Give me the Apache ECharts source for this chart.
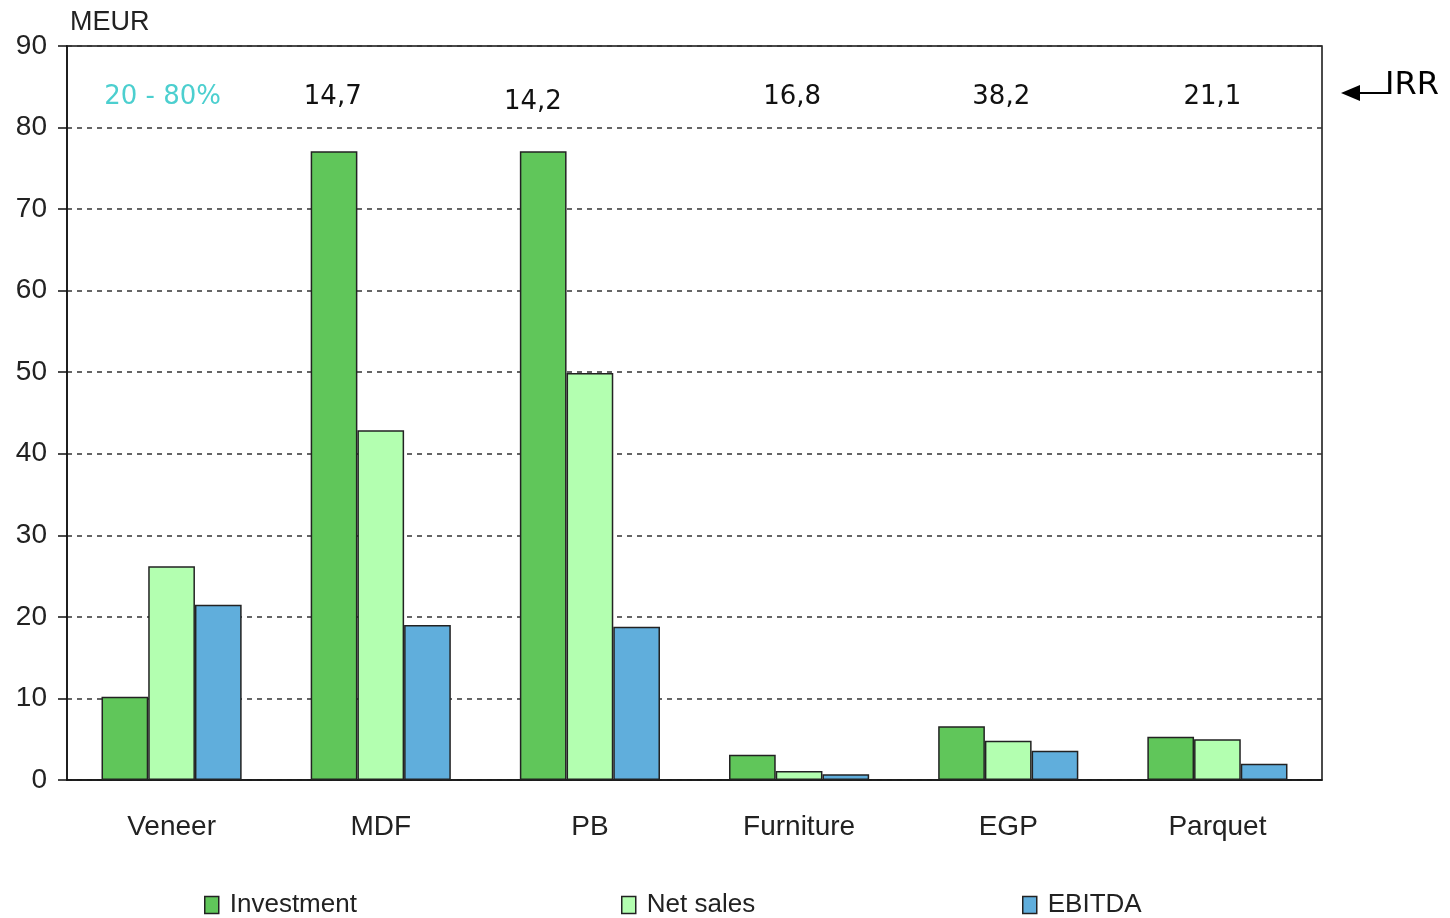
<!DOCTYPE html>
<html>
<head>
<meta charset="utf-8">
<script src="https://cdn.jsdelivr.net/npm/echarts@6/dist/echarts.min.js"></script>
<style>
  html, body { margin: 0; padding: 0; background: #fff; }
  #chart { width: 1450px; height: 918px; }
</style>
</head>
<body>
<div id="chart"></div>
<script>
var categories = ['Veneer', 'MDF', 'PB', 'Furniture', 'EGP', 'Parquet'];
var investment = [10.2, 77.1, 77.1, 3.1, 6.6, 5.3];
var netSales = [26.2, 42.9, 49.9, 1.1, 4.8, 5.0];
var ebitda = [21.5, 19.0, 18.8, 0.7, 3.6, 2.0];
var irrLabels = ['20 - 80%', '14,7', '14,2', '16,8', '38,2', '21,1'];
var irrY = [84, 84, 83.3, 84, 84, 84];
var irrShift = [-9, -48, -57, -7, -7, -5]; // labels sit a bit left of the group centre

var myChart = echarts.init(document.getElementById('chart'));

var irrData = [];
for (var i = 0; i < categories.length; i++) {
  irrData.push({
    value: [i, irrY[i]],
    label: {
      offset: [irrShift[i], 2],
      color: i == 0 ? '#4ccfcf' : '#111'
    }
  });
}

var barBorder = { borderColor: '#222', borderWidth: 1.5 };

var legendBase = {
  top: 892,
  padding: 0,
  itemWidth: 14,
  itemHeight: 17,
  icon: 'rect',
  itemStyle: { borderColor: '#222', borderWidth: 1.5 },
  textStyle: { fontFamily: 'Liberation Sans', fontSize: 26, color: '#222', padding: [0, 0, 0, 6] }
};

var option = {
  animation: false,
  backgroundColor: '#fff',
  grid: {
    left: 67, right: 128, top: 46, bottom: 138,
    show: true, borderColor: '#111', borderWidth: 1.5, backgroundColor: 'transparent'
  },
  legend: [
    Object.assign({}, legendBase, { left: 204, data: ['Investment'] }),
    Object.assign({}, legendBase, { left: 621, data: ['Net sales'] }),
    Object.assign({}, legendBase, { left: 1022, data: ['EBITDA'] })
  ],
  xAxis: {
    type: 'category',
    data: categories,
    axisLine: { lineStyle: { color: '#111', width: 1.5 } },
    axisTick: { length: 10, lineStyle: { color: '#111', width: 1.5 } },
    axisLabel: { fontFamily: 'Liberation Sans', fontSize: 28, color: '#222', margin: 33 }
  },
  yAxis: {
    type: 'value',
    min: 0, max: 90, interval: 10,
    axisLine: { show: true, lineStyle: { color: '#111', width: 1.5 } },
    axisTick: { show: true, length: 9, lineStyle: { color: '#111', width: 1.5 } },
    axisLabel: { fontFamily: 'Liberation Sans', fontSize: 28, color: '#222', margin: 20 },
    splitLine: { lineStyle: { color: '#333', width: 1.5, type: [5, 5] } }
  },
  series: [
    { name: 'Investment', type: 'bar', data: investment, barGap: '0%', barCategoryGap: '33%',
      itemStyle: Object.assign({ color: '#60c65a' }, barBorder) },
    { name: 'Net sales', type: 'bar', data: netSales,
      itemStyle: Object.assign({ color: '#b3ffb0' }, barBorder) },
    { name: 'EBITDA', type: 'bar', data: ebitda,
      itemStyle: Object.assign({ color: '#60aedc' }, barBorder) },
    { name: 'IRR', type: 'scatter', data: irrData, symbolSize: 0, silent: true,
      itemStyle: { opacity: 1 },
      label: {
        show: true, position: 'inside', fontFamily: 'DejaVu Sans', fontSize: 26,
        formatter: function (p) { return irrLabels[p.dataIndex]; }
      }
    }
  ],
  graphic: [
    { type: 'text', left: 70, top: 9,
      style: { text: 'MEUR', fontFamily: 'Liberation Sans', fontSize: 27, fill: '#222' } },
    { type: 'line', shape: { x1: 1352, y1: 93, x2: 1390, y2: 93 },
      style: { stroke: '#000', lineWidth: 2 } },
    { type: 'polygon', shape: { points: [[1341, 93], [1360, 85], [1360, 101]] },
      style: { fill: '#000' } },
    { type: 'text', left: 1385, top: 70,
      style: { text: 'IRR', fontFamily: 'DejaVu Sans', fontSize: 32, fill: '#000' } }
  ]
};

myChart.setOption(option);
</script>
</body>
</html>
